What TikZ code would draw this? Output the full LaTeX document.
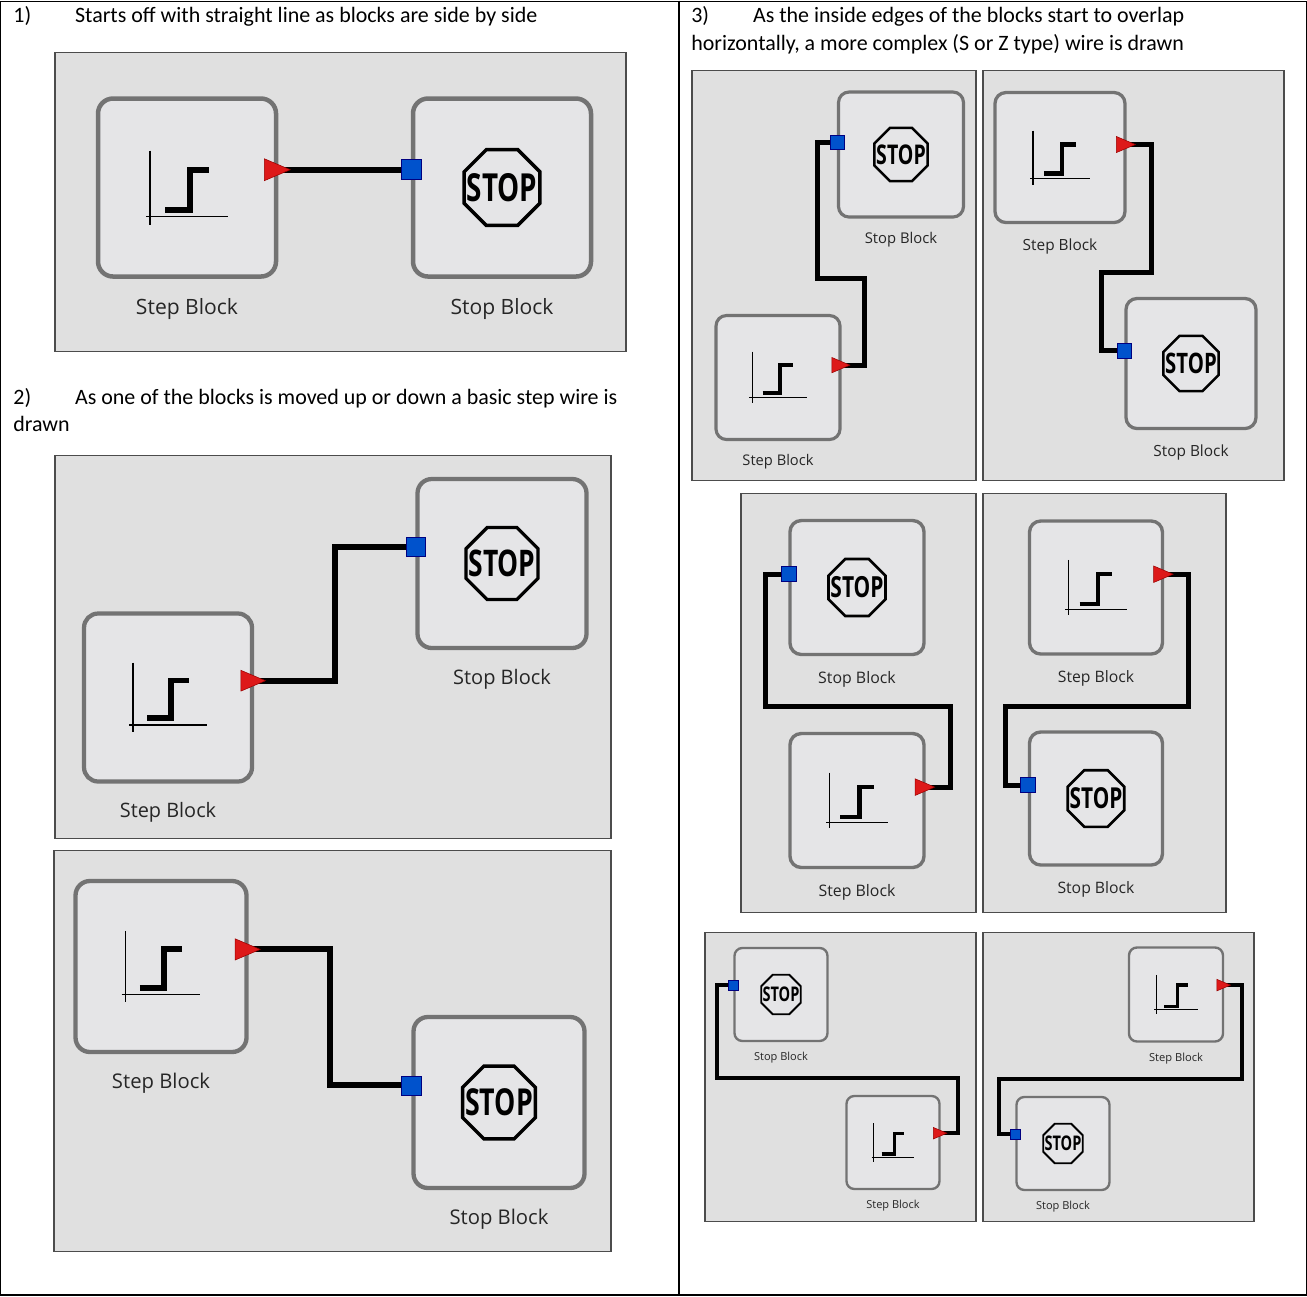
\documentclass[tikz,border=0pt]{standalone}
\usepackage{fontspec}
\setmainfont{Carlito}
\newfontfamily\lblfont{Open Sans}
\usetikzlibrary{calc}

% one pixel of the reference is one unit
\tikzset{x=0.02cm,y=-0.02cm,
  panel/.style={draw=black!70,fill=black!12,line width=0.8pt},
  wire/.style={line width=#1*0.02cm,black},
  wire/.default=6,
  head/.style={anchor=base west,font=\fontsize{12.5}{15}\selectfont,inner sep=0pt},
  lbl/.style={inner sep=0pt,text=black!85},
  outport/.style={fill=red!85!black!90,draw=red!60!black,line width=0.3pt},
  inport/.style={fill=blue!60!cyan!80!black,draw=blue!50!black,line width=0.3pt}}

% block body: name, cx, cy, size
\newcommand\blkbody[4]{%
  \pgfmathsetmacro\u{#4/178}%
  \pgfmathsetlengthmacro\rc{\u*0.3cm}%
  \pgfmathsetmacro\fs{\u*12}%
  \pgfmathsetmacro\fb{\u*22}%
  \node[draw=black!55,fill=blue!4!black!10,rounded corners=\rc,line width=\u*0.09cm,
    minimum size=#4*0.02cm,inner sep=0pt] (#1) at (#2,#3) {};
}
% step block: name, cx, cy, size
\newcommand\stepblk[4]{%
  \blkbody{#1}{#2}{#3}{#4}
  \coordinate (#1-p) at ($(#1.east)+(0,-0.1*#4)$);
  \begin{scope}[shift={(#2,#3)},scale=\u]
    \draw[line width=\u*0.03cm] (-37,-37) -- (-37,37) (-41,29) -- (41,29);
    \draw[line width=\u*0.12cm] (-22,22) -- (3,22) -- (3,-18) -- (22,-18);
  \end{scope}
  \node[lbl,font=\lblfont\fontsize{\fs}{\fs}\selectfont] (#1-l) at ($(#1.south)+(0,0.17*#4)$) {Step Block};
}
% stop block: name, cx, cy, size
\newcommand\stopblk[4]{%
  \blkbody{#1}{#2}{#3}{#4}
  \coordinate (#1-p) at ($(#1.west)+(0,-0.1*#4)$);
  \begin{scope}[shift={(#2,#3)},scale=\u]
    \draw[line width=\u*0.07cm] (22.5:41) \foreach \a in {67.5,112.5,...,337.5} { -- (\a:41) } -- cycle;
  \end{scope}
  \node[font=\lblfont\bfseries\fontsize{\fb}{\fb}\selectfont,inner sep=0pt] at (#2,#3) {\scalebox{0.72}[1]{STOP}};
  \node[lbl,font=\lblfont\fontsize{\fs}{\fs}\selectfont] (#1-l) at ($(#1.south)+(0,0.17*#4)$) {Stop Block};
}
% ports: name, size of block
\newcommand\outport[2]{\pgfmathsetmacro\v{#2/178}%
  \fill[outport] ($(#1-p)+(-14*\v,-11*\v)$) -- ($(#1-p)+(12*\v,0)$) -- ($(#1-p)+(-14*\v,11*\v)$) -- cycle;}
\newcommand\inport[2]{\pgfmathsetmacro\v{#2/178}%
  \fill[inport] ($(#1-p)+(-10*\v,-10*\v)$) rectangle ($(#1-p)+(10*\v,10*\v)$);}

\begin{document}
\begin{tikzpicture}
\fill[white] (0,0) rectangle (1307,1295);
\draw[line width=0.6pt] (0.5,0.5) rectangle (1306.5,1294.5) (679,0) -- (679,1295);

% texts
\node[head] (h1) at (13,22) {1)\hspace{2em}Starts off with straight line as blocks are side by side};
\node[head] (h2) at (13,404) {2)\hspace{2em}As one of the blocks is moved up or down a basic step wire is};
\node[head] (h2b) at (13,431) {drawn};
\node[head] (h3) at (691,22) {3)\hspace{2em}As the inside edges of the blocks start to overlap};
\node[head] (h3b) at (691,50) {horizontally, a more complex (S or Z type) wire is drawn};

% panels
\draw[panel] (55,52) rectangle (626,351);
\draw[panel] (55,455) rectangle (611,838);
\draw[panel] (54,850) rectangle (611,1251);
\draw[panel] (692,70) rectangle (976,480);
\draw[panel] (983,70) rectangle (1284,480);
\draw[panel] (741,493) rectangle (976,912);
\draw[panel] (983,493) rectangle (1226,912);
\draw[panel] (705,932) rectangle (976,1221);
\draw[panel] (983,932) rectangle (1254,1221);

% blocks
\stepblk{s1}{187}{187}{178}
\stopblk{t1}{502}{187}{178}
\stepblk{s2}{168}{697}{168}
\stopblk{t2}{502}{563}{169}
\stepblk{s3}{161}{966}{171}
\stopblk{t3}{499}{1102}{171}
\stopblk{t4}{901}{154}{125}
\stepblk{s4}{778}{377}{124}
\stepblk{s5}{1060}{157}{130}
\stopblk{t5}{1191}{363}{130}
\stopblk{t6}{857}{587}{134}
\stepblk{s6}{857}{800}{134}
\stepblk{s7}{1096}{587}{133}
\stopblk{t7}{1096}{798}{133}
\stopblk{t8}{781}{994}{93}
\stepblk{s8}{893}{1142}{93}
\stepblk{s9}{1176}{994}{94}
\stopblk{t9}{1063}{1143}{93}

% wires
\draw[wire] (s1-p) -- (t1-p);
\draw[wire] (s2-p) -| (335,0 |- t2-p) -- (t2-p);
\draw[wire] (s3-p) -| (330,0 |- t3-p) -- (t3-p);
\draw[wire=5] (t4-p) -| (817,278) -| (864,0 |- s4-p) -- (s4-p);
\draw[wire=5] (s5-p) -| (1151,272) -| (1101,0 |- t5-p) -- (t5-p);
\draw[wire=5] (t6-p) -| (765,706) -| (950,0 |- s6-p) -- (s6-p);
\draw[wire=5] (s7-p) -| (1189,706) -| (1005,0 |- t7-p) -- (t7-p);
\draw[wire=4] (t8-p) -| (717,1077) -| (958,0 |- s8-p) -- (s8-p);
\draw[wire=4] (s9-p) -| (1242,1078) -| (999,0 |- t9-p) -- (t9-p);

% ports
\outport{s1}{178} \inport{t1}{178}
\outport{s2}{168} \inport{t2}{169}
\outport{s3}{171} \inport{t3}{171}
\inport{t4}{125} \outport{s4}{124}
\outport{s5}{130} \inport{t5}{130}
\inport{t6}{134} \outport{s6}{134}
\outport{s7}{133} \inport{t7}{133}
\inport{t8}{93} \outport{s8}{93}
\outport{s9}{94} \inport{t9}{93}
\end{tikzpicture}
\end{document}
